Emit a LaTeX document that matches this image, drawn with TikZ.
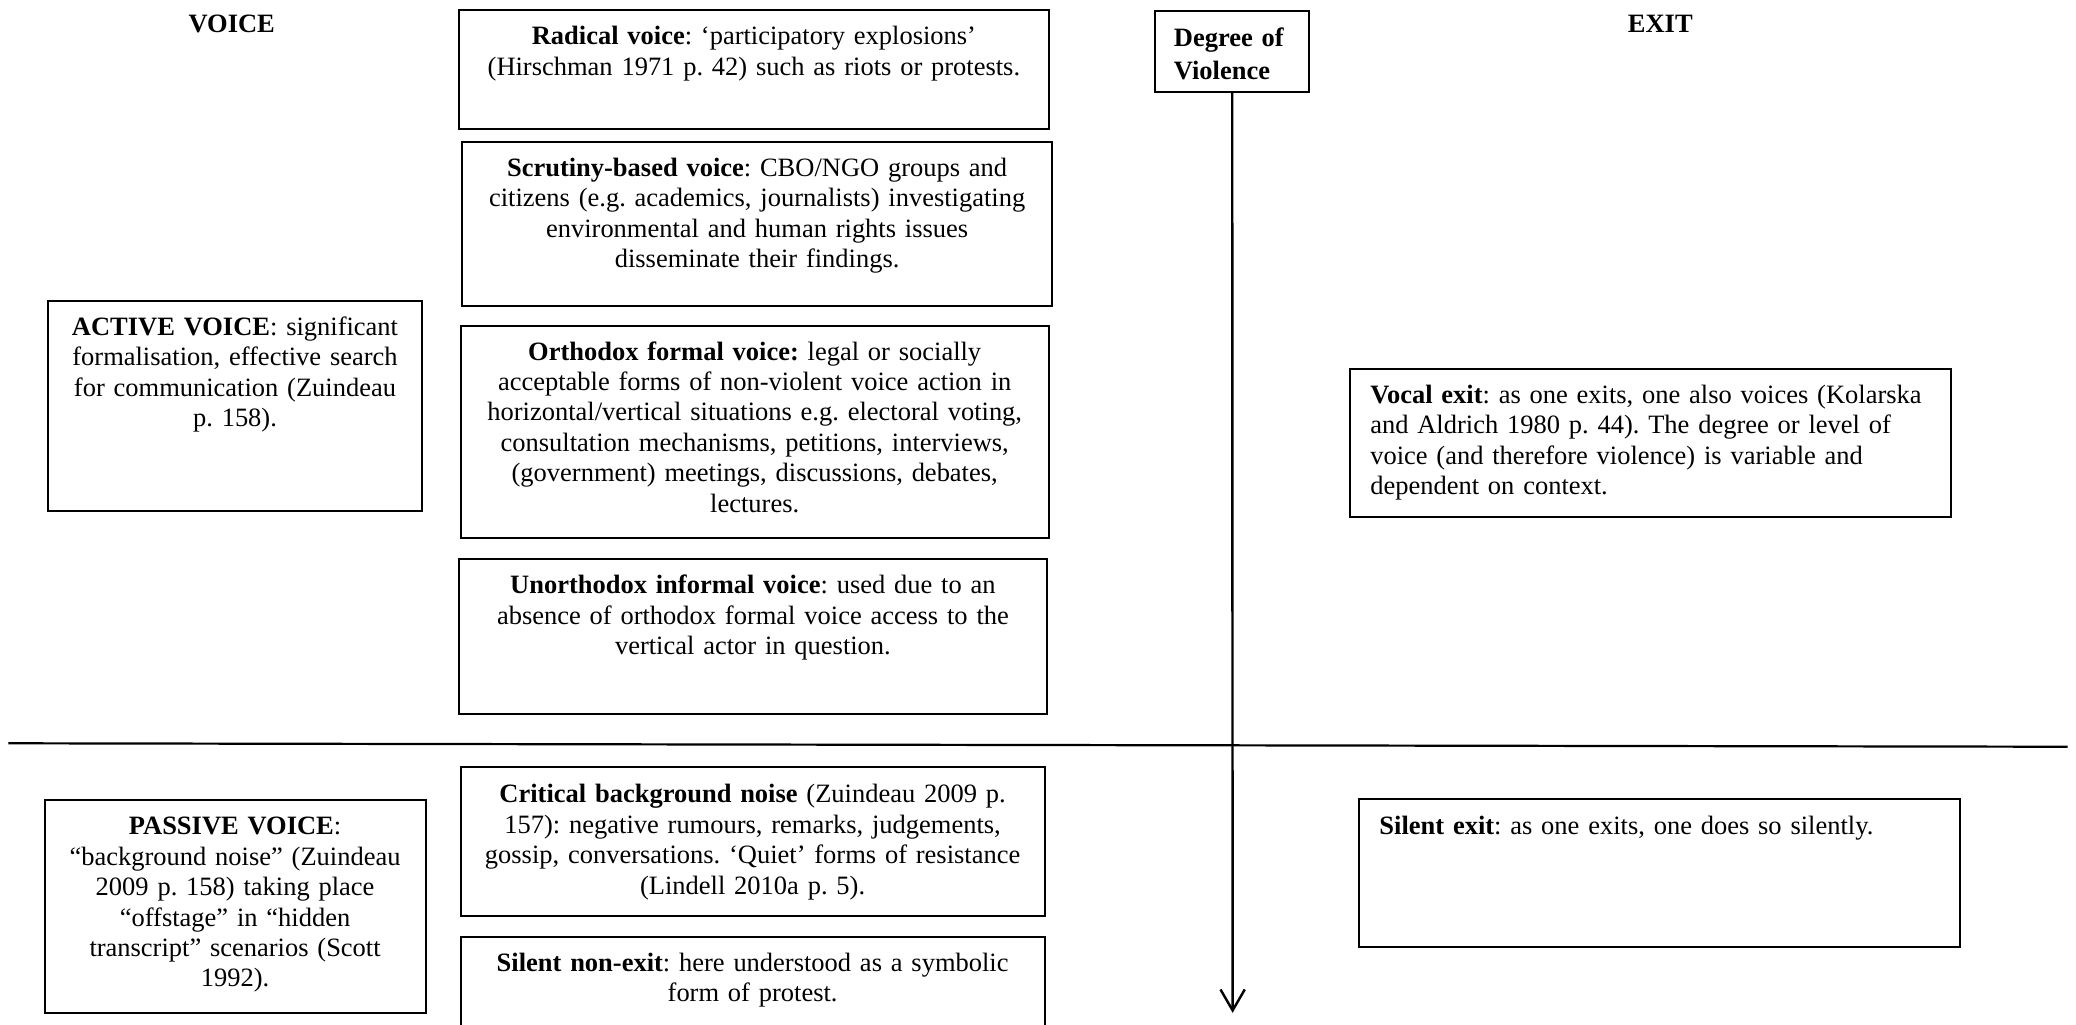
\documentclass[tikz,border=0pt]{standalone}
\usepackage{fontspec}
\setmainfont{Liberation Serif}
\frenchspacing
\usepackage{tikz}
\usetikzlibrary{arrows.meta}

\begin{document}
\begin{tikzpicture}[x=0.6pt,y=-0.6pt,font=\fontsize{12}{13.8}\selectfont,
    panel/.style={draw,line width=0.9pt,anchor=north west,inner xsep=0pt,inner ysep=0pt,
      align=center,text height=15.6pt},
    side/.style={panel,align=left,inner xsep=9.2pt},
    head/.style={font=\fontsize{12}{13.8}\selectfont\bfseries,anchor=base}]
  \clip (0,0) rectangle (1568,774);
  % titres
  \node[head] (voice) at (175,24.4) {VOICE};
  \node[head] (exit) at (1254,24.8) {EXIT};
  % colonne voice : formes actives
  \node[panel,text width=169.5pt,text depth=79.6pt] (active) at (35.5,226.6)
    {\textbf{ACTIVE VOICE}: significant\\formalisation, effective search\\for communication (Zuindeau\\p. 158).};
  \node[panel,text width=267.1pt,text depth=38.4pt] (radical) at (346.1,7)
    {\textbf{Radical voice}: ‘participatory explosions’\\(Hirschman 1971 p. 42) such as riots or protests.};
  \node[panel,text width=267.5pt,text depth=58.5pt] (scrutiny) at (348.2,106.5)
    {\textbf{Scrutiny-based voice}: CBO/NGO groups and\\citizens (e.g. academics, journalists) investigating\\environmental and human rights issues\\disseminate their findings.};
  \node[panel,text width=266.5pt,text depth=80.6pt] (orthodox) at (347.2,245.2)
    {\textbf{Orthodox formal voice:} legal or socially\\acceptable forms of non-violent voice action in\\horizontal/vertical situations e.g. electoral voting,\\consultation mechanisms, petitions, interviews,\\(government) meetings, discussions, debates,\\lectures.};
  \node[panel,text width=266.8pt,text depth=54.4pt] (unorthodox) at (345.6,421.7)
    {\textbf{Unorthodox informal voice}: used due to an\\absence of orthodox formal voice access to the\\vertical actor in question.};
  % colonne voice : formes passives
  \node[panel,text width=172.7pt,text depth=80.6pt] (passive) at (32.9,603.7)
    {\textbf{PASSIVE VOICE}:\\“background noise” (Zuindeau\\2009 p. 158) taking place\\“offstage” in “hidden\\transcript” scenarios (Scott\\1992).};
  \node[panel,text width=264.6pt,text height=16.2pt,text depth=51.4pt] (critical) at (347.2,578.5)
    {\textbf{Critical background noise} (Zuindeau 2009 p.\\157): negative rumours, remarks, judgements,\\gossip, conversations. ‘Quiet’ forms of resistance\\(Lindell 2010a p. 5).};
  \node[panel,text width=264.6pt,text depth=44.4pt] (nonexit) at (347.2,707)
    {\textbf{Silent non-exit}: here understood as a symbolic\\form of protest.};
  % colonne exit
  \node[side,text width=253.9pt,text depth=51.6pt] (vocal) at (1018.9,277.8)
    {\textbf{Vocal exit}: as one exits, one also voices (Kolarska\\and Aldrich 1980 p. 44). The degree or level of\\voice (and therefore violence) is variable and\\dependent on context.};
  \node[side,text width=254pt,text height=16.2pt,text depth=50.9pt] (silent) at (1025.8,602.5)
    {\textbf{Silent exit}: as one exits, one does so silently.};
  % axe de violence
  \node[panel,align=left,inner xsep=8.6pt,text width=52.8pt,text height=16.2pt,text depth=20.6pt,
    font=\fontsize{12}{14.9}\selectfont\bfseries] (degree) at (871.6,7.5) {Degree of\\Violence};
  \coordinate (tip) at (931,765);
  \draw[line width=1.1pt,-{Straight Barb[length=9.5pt,width=11pt]}] (degree.south) -- (tip);
  % separation active / passive
  \coordinate (divL) at (6.4,561.4);
  \coordinate (divR) at (1561.6,564);
  \draw[line width=1pt] (divL) -- (divR);
\end{tikzpicture}
\end{document}
